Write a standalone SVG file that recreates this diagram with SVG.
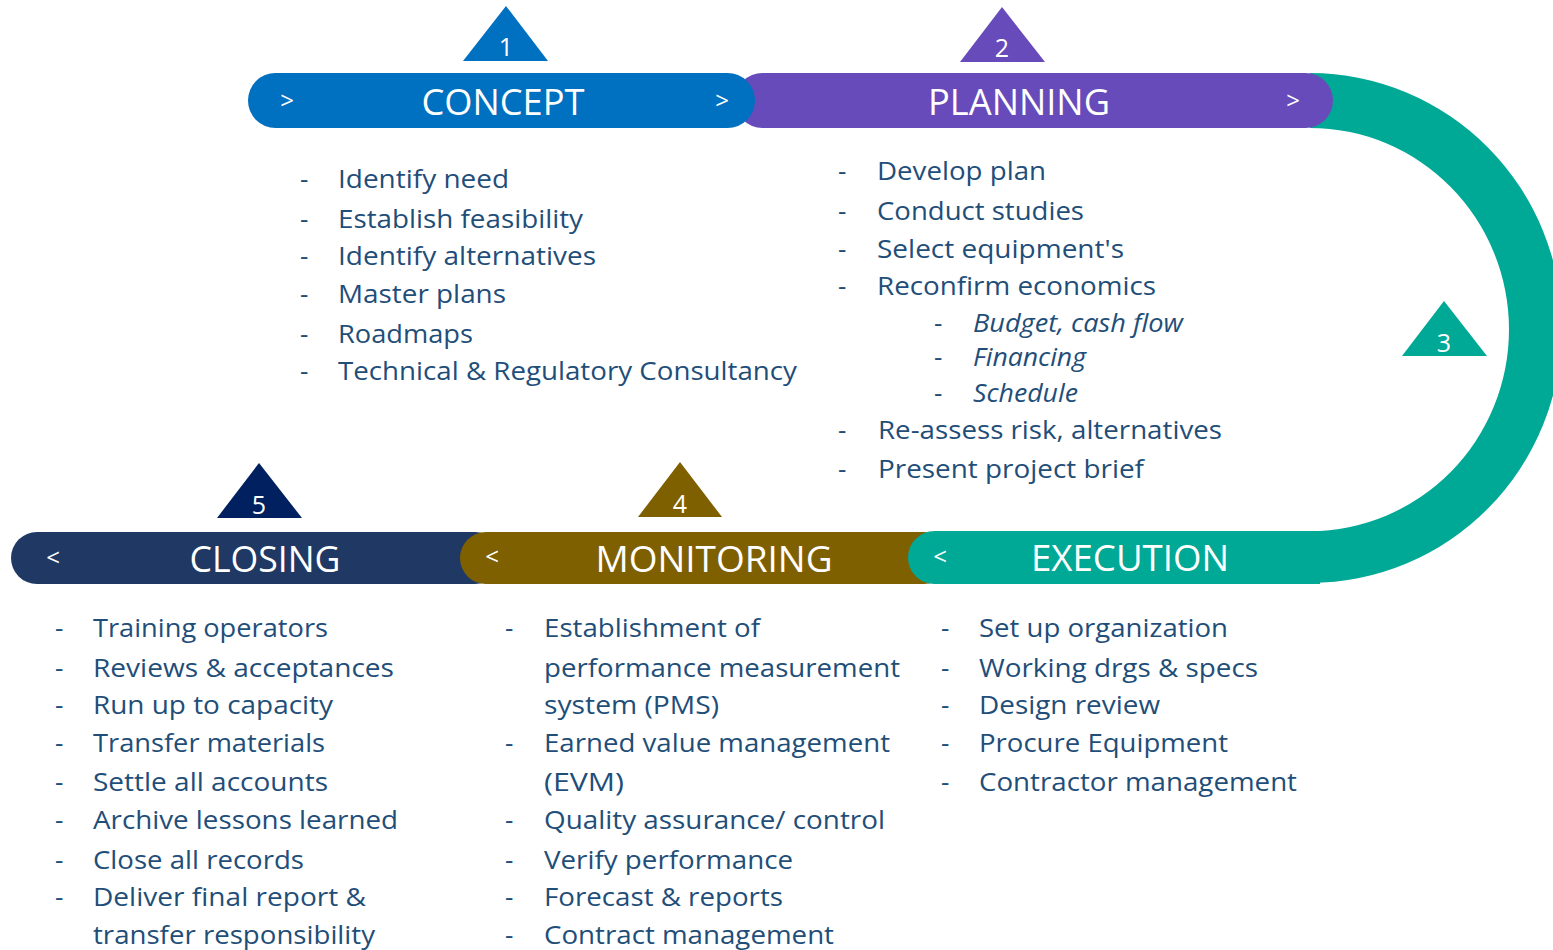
<svg xmlns="http://www.w3.org/2000/svg" width="1553" height="950" viewBox="0 0 1553 950">
<style>
.t{font-family:"Open Sans","Noto Sans",sans-serif;font-size:26px;fill:#1F4E79;}
.i{font-style:italic;}
.h{font-family:"Open Sans","Noto Sans",sans-serif;font-size:36px;fill:#FFFFFF;text-anchor:middle;}
.a{font-family:"Open Sans","Noto Sans",sans-serif;font-size:24px;fill:#FFFFFF;text-anchor:middle;}
.n{font-family:"Open Sans","Noto Sans",sans-serif;font-size:25px;fill:#FFFFFF;text-anchor:middle;}
</style>
<rect width="1553" height="950" fill="#FFFFFF"/>
<g id="connectors">
<path d="M1310,73 A252,255 0 0 1 1310,583 L1310,531 A199,201.5 0 0 0 1310,128 Z" fill="#00A996"/>
</g>
<g id="closing">
<rect x="11" y="532" width="490" height="52" rx="26" fill="#203864"/>
<text class="a" x="53" y="566">&lt;</text>
<text class="h" x="265" y="572" textLength="151" lengthAdjust="spacingAndGlyphs">CLOSING</text>
<polygon points="259,463 302,518 217,518" fill="#002060"/>
<text class="n" x="259" y="514">5</text>
<text class="t" x="55" y="637">-</text><text class="t" x="93" y="637" textLength="235" lengthAdjust="spacingAndGlyphs">Training operators</text>
<text class="t" x="55" y="677">-</text><text class="t" x="93" y="677" textLength="301" lengthAdjust="spacingAndGlyphs">Reviews &amp; acceptances</text>
<text class="t" x="55" y="714">-</text><text class="t" x="93" y="714" textLength="240" lengthAdjust="spacingAndGlyphs">Run up to capacity</text>
<text class="t" x="55" y="752">-</text><text class="t" x="93" y="752" textLength="232" lengthAdjust="spacingAndGlyphs">Transfer materials</text>
<text class="t" x="55" y="791">-</text><text class="t" x="93" y="791" textLength="235" lengthAdjust="spacingAndGlyphs">Settle all accounts</text>
<text class="t" x="55" y="829">-</text><text class="t" x="93" y="829" textLength="305" lengthAdjust="spacingAndGlyphs">Archive lessons learned</text>
<text class="t" x="55" y="869">-</text><text class="t" x="93" y="869" textLength="211" lengthAdjust="spacingAndGlyphs">Close all records</text>
<text class="t" x="55" y="906">-</text><text class="t" x="93" y="906" textLength="273" lengthAdjust="spacingAndGlyphs">Deliver final report &amp;</text>
<text class="t" x="93" y="944" textLength="282" lengthAdjust="spacingAndGlyphs">transfer responsibility</text>
</g>
<g id="monitoring">
<rect x="460" y="532" width="490" height="52" rx="26" fill="#7F6000"/>
<text class="a" x="492" y="565">&lt;</text>
<text class="h" x="714" y="572" textLength="237" lengthAdjust="spacingAndGlyphs">MONITORING</text>
<polygon points="680,462 722,517 638,517" fill="#7F6000"/>
<text class="n" x="680" y="513">4</text>
<text class="t" x="505" y="637">-</text><text class="t" x="544" y="637" textLength="216" lengthAdjust="spacingAndGlyphs">Establishment of</text>
<text class="t" x="544" y="677" textLength="356" lengthAdjust="spacingAndGlyphs">performance measurement</text>
<text class="t" x="544" y="714" textLength="175" lengthAdjust="spacingAndGlyphs">system (PMS)</text>
<text class="t" x="505" y="752">-</text><text class="t" x="544" y="752" textLength="346" lengthAdjust="spacingAndGlyphs">Earned value management</text>
<text class="t" x="544" y="791" textLength="80" lengthAdjust="spacingAndGlyphs">(EVM)</text>
<text class="t" x="505" y="829">-</text><text class="t" x="544" y="829" textLength="341" lengthAdjust="spacingAndGlyphs">Quality assurance/ control</text>
<text class="t" x="505" y="869">-</text><text class="t" x="544" y="869" textLength="249" lengthAdjust="spacingAndGlyphs">Verify performance</text>
<text class="t" x="505" y="906">-</text><text class="t" x="544" y="906" textLength="239" lengthAdjust="spacingAndGlyphs">Forecast &amp; reports</text>
<text class="t" x="505" y="944">-</text><text class="t" x="544" y="944" textLength="290" lengthAdjust="spacingAndGlyphs">Contract management</text>
</g>
<g id="execution">
<rect x="908" y="531" width="420" height="53" rx="26.5" fill="#00A996"/>
<rect x="1300" y="531" width="20" height="53" fill="#00A996"/>
<text class="a" x="940" y="565">&lt;</text>
<text class="h" x="1130" y="571" textLength="198" lengthAdjust="spacingAndGlyphs">EXECUTION</text>
<text class="t" x="941" y="637">-</text><text class="t" x="979" y="637" textLength="249" lengthAdjust="spacingAndGlyphs">Set up organization</text>
<text class="t" x="941" y="677">-</text><text class="t" x="979" y="677" textLength="279" lengthAdjust="spacingAndGlyphs">Working drgs &amp; specs</text>
<text class="t" x="941" y="714">-</text><text class="t" x="979" y="714" textLength="181" lengthAdjust="spacingAndGlyphs">Design review</text>
<text class="t" x="941" y="752">-</text><text class="t" x="979" y="752" textLength="249" lengthAdjust="spacingAndGlyphs">Procure Equipment</text>
<text class="t" x="941" y="791">-</text><text class="t" x="979" y="791" textLength="318" lengthAdjust="spacingAndGlyphs">Contractor management</text>
<polygon points="1444,301 1487,356 1402,356" fill="#00A996"/>
<text class="n" x="1444" y="352">3</text>
</g>
<g id="planning">
<rect x="735" y="73" width="598" height="55" rx="27.5" fill="#674BBA"/>
<text class="h" x="1019" y="115" textLength="182" lengthAdjust="spacingAndGlyphs">PLANNING</text>
<text class="a" x="1293" y="109">&gt;</text>
<polygon points="1002,7 1045,62 960,62" fill="#674BBA"/>
<text class="n" x="1002" y="57">2</text>
<text class="t" x="838" y="180">-</text><text class="t" x="877" y="180" textLength="169" lengthAdjust="spacingAndGlyphs">Develop plan</text>
<text class="t" x="838" y="220">-</text><text class="t" x="877" y="220" textLength="207" lengthAdjust="spacingAndGlyphs">Conduct studies</text>
<text class="t" x="838" y="258">-</text><text class="t" x="877" y="258" textLength="247" lengthAdjust="spacingAndGlyphs">Select equipment's</text>
<text class="t" x="838" y="295">-</text><text class="t" x="877" y="295" textLength="279" lengthAdjust="spacingAndGlyphs">Reconfirm economics</text>
<text class="t" x="934" y="332">-</text><text class="t i" x="973" y="332" textLength="210" lengthAdjust="spacingAndGlyphs">Budget, cash flow</text>
<text class="t" x="934" y="366">-</text><text class="t i" x="973" y="366" textLength="113" lengthAdjust="spacingAndGlyphs">Financing</text>
<text class="t" x="934" y="402">-</text><text class="t i" x="973" y="402" textLength="105" lengthAdjust="spacingAndGlyphs">Schedule</text>
<text class="t" x="838" y="439">-</text><text class="t" x="878" y="439" textLength="344" lengthAdjust="spacingAndGlyphs">Re-assess risk, alternatives</text>
<text class="t" x="838" y="478">-</text><text class="t" x="878" y="478" textLength="266" lengthAdjust="spacingAndGlyphs">Present project brief</text>
</g>
<g id="concept">
<rect x="248" y="73" width="507" height="55" rx="27.5" fill="#0070C0"/>
<text class="h" x="503" y="115" textLength="163" lengthAdjust="spacingAndGlyphs">CONCEPT</text>
<text class="a" x="287" y="109">&gt;</text>
<text class="a" x="722" y="109">&gt;</text>
<polygon points="506,6 548,61 463,61" fill="#0070C0"/>
<text class="n" x="506" y="56">1</text>
<text class="t" x="300" y="188">-</text><text class="t" x="338" y="188" textLength="171" lengthAdjust="spacingAndGlyphs">Identify need</text>
<text class="t" x="300" y="228">-</text><text class="t" x="338" y="228" textLength="245" lengthAdjust="spacingAndGlyphs">Establish feasibility</text>
<text class="t" x="300" y="265">-</text><text class="t" x="338" y="265" textLength="258" lengthAdjust="spacingAndGlyphs">Identify alternatives</text>
<text class="t" x="300" y="303">-</text><text class="t" x="338" y="303" textLength="168" lengthAdjust="spacingAndGlyphs">Master plans</text>
<text class="t" x="300" y="343">-</text><text class="t" x="338" y="343" textLength="135" lengthAdjust="spacingAndGlyphs">Roadmaps</text>
<text class="t" x="300" y="380">-</text><text class="t" x="338" y="380" textLength="459" lengthAdjust="spacingAndGlyphs">Technical &amp; Regulatory Consultancy</text>
</g>
</svg>
